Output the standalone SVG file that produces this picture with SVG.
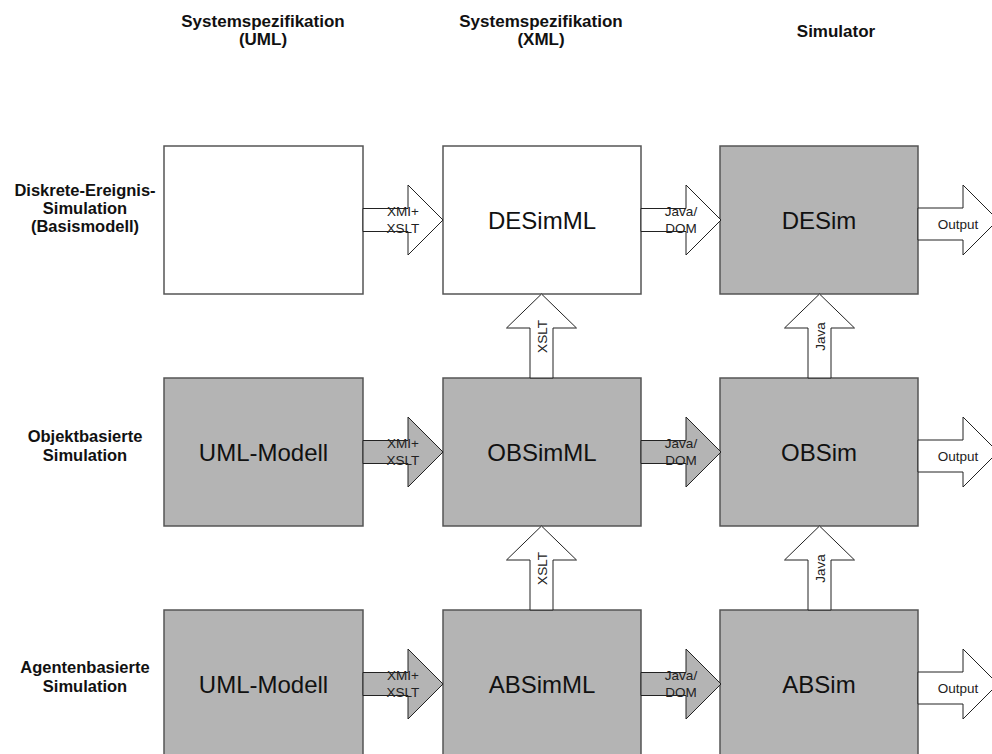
<svg xmlns="http://www.w3.org/2000/svg" width="992" height="754" viewBox="0 0 992 754">
  <style>
    .box { stroke: #555; stroke-width: 1.5; }
    .white { fill: #ffffff; }
    .grey { fill: #b4b4b4; }
    .arrow { stroke: #222; stroke-width: 1; stroke-linejoin: miter; }
    .head { font-family: "Liberation Sans", Arial, sans-serif; font-weight: bold; font-size: 17px; fill: #111; text-anchor: middle; }
    .rowh { font-family: "Liberation Sans", Arial, sans-serif; font-weight: bold; font-size: 16.5px; fill: #111; text-anchor: middle; }
    .name { font-family: "Liberation Sans", Arial, sans-serif; font-size: 24px; fill: #111; text-anchor: middle; }
    .lbl { font-family: "Liberation Sans", Arial, sans-serif; font-size: 13.5px; fill: #222; text-anchor: middle; }
  </style>
  <defs>
    <!-- horizontal block arrow, local origin at the shaft start on the centre line -->
    <polygon id="rarrow" points="0,-11.5 45,-11.5 45,-35 80,0 45,35 45,11.5 0,11.5"/>
    <!-- wider output arrow -->
    <polygon id="oarrow" points="0,-12 45,-12 45,-35 80,0 45,35 45,20 0,20"/>
    <!-- vertical block arrow, origin at the tip -->
    <polygon id="uarrow" points="0,0 35,34 11.5,34 11.5,84 -11.5,84 -11.5,34 -35,34"/>
  </defs>

  <rect width="992" height="754" fill="#ffffff"/>

  <!-- column headers -->
  <g id="col-uml">
    <text class="head" x="263" y="27">Systemspezifikation</text>
    <text class="head" x="263" y="45">(UML)</text>
  </g>
  <g id="col-xml">
    <text class="head" x="541" y="27">Systemspezifikation</text>
    <text class="head" x="541" y="45">(XML)</text>
  </g>
  <g id="col-sim">
    <text class="head" x="836" y="37">Simulator</text>
  </g>

  <!-- row headers -->
  <g id="row-des">
    <text class="rowh" x="85" y="196">Diskrete-Ereignis-</text>
    <text class="rowh" x="85" y="214">Simulation</text>
    <text class="rowh" x="85" y="232">(Basismodell)</text>
  </g>
  <g id="row-obs">
    <text class="rowh" x="85" y="442">Objektbasierte</text>
    <text class="rowh" x="85" y="461">Simulation</text>
  </g>
  <g id="row-abs">
    <text class="rowh" x="85" y="673">Agentenbasierte</text>
    <text class="rowh" x="85" y="692">Simulation</text>
  </g>

  <!-- row 1: discrete event simulation -->
  <g id="uml-des">
    <rect class="box white" x="164" y="146" width="199" height="148"/>
  </g>
  <g id="desimml">
    <rect class="box white" x="443" y="146" width="198" height="148"/>
    <text class="name" x="542" y="228.5">DESimML</text>
  </g>
  <g id="desim">
    <rect class="box grey" x="720" y="146" width="198" height="148"/>
    <text class="name" x="819" y="228.5">DESim</text>
  </g>

  <!-- row 2: object based simulation -->
  <g id="uml-obs">
    <rect class="box grey" x="164" y="378" width="199" height="148"/>
    <text class="name" x="263.5" y="460.5">UML-Modell</text>
  </g>
  <g id="obsimml">
    <rect class="box grey" x="443" y="378" width="198" height="148"/>
    <text class="name" x="542" y="460.5">OBSimML</text>
  </g>
  <g id="obsim">
    <rect class="box grey" x="720" y="378" width="198" height="148"/>
    <text class="name" x="819" y="460.5">OBSim</text>
  </g>

  <!-- row 3: agent based simulation -->
  <g id="uml-abs">
    <rect class="box grey" x="164" y="610" width="199" height="148"/>
    <text class="name" x="263.5" y="692.5">UML-Modell</text>
  </g>
  <g id="absimml">
    <rect class="box grey" x="443" y="610" width="198" height="148"/>
    <text class="name" x="542" y="692.5">ABSimML</text>
  </g>
  <g id="absim">
    <rect class="box grey" x="720" y="610" width="198" height="148"/>
    <text class="name" x="819" y="692.5">ABSim</text>
  </g>

  <!-- connectors: block arrows with their labels -->
  <g id="connectors">
    <!-- XMI+XSLT transformations -->
    <use href="#rarrow" class="arrow white" x="363" y="220"/>
    <text class="lbl" x="403" y="215.5">XMI+</text>
    <text class="lbl" x="403" y="232.5">XSLT</text>

    <use href="#rarrow" class="arrow grey" x="363" y="452"/>
    <text class="lbl" x="403" y="447.5">XMI+</text>
    <text class="lbl" x="403" y="464.5">XSLT</text>

    <use href="#rarrow" class="arrow grey" x="363" y="684"/>
    <text class="lbl" x="403" y="679.5">XMI+</text>
    <text class="lbl" x="403" y="696.5">XSLT</text>

    <!-- Java/DOM bindings -->
    <use href="#rarrow" class="arrow white" x="641" y="220"/>
    <text class="lbl" x="681" y="215.5">Java/</text>
    <text class="lbl" x="681" y="232.5">DOM</text>

    <use href="#rarrow" class="arrow grey" x="641" y="452"/>
    <text class="lbl" x="681" y="447.5">Java/</text>
    <text class="lbl" x="681" y="464.5">DOM</text>

    <use href="#rarrow" class="arrow grey" x="641" y="684"/>
    <text class="lbl" x="681" y="679.5">Java/</text>
    <text class="lbl" x="681" y="696.5">DOM</text>

    <!-- simulator output -->
    <use href="#oarrow" class="arrow white" x="918" y="220"/>
    <text class="lbl" x="958" y="229">Output</text>

    <use href="#oarrow" class="arrow white" x="918" y="452"/>
    <text class="lbl" x="958" y="461">Output</text>

    <use href="#oarrow" class="arrow white" x="918" y="684"/>
    <text class="lbl" x="958" y="693">Output</text>

    <!-- vertical extensions -->
    <use href="#uarrow" class="arrow white" x="541.5" y="294"/>
    <text class="lbl" transform="translate(546.5,336.5) rotate(-90)">XSLT</text>

    <use href="#uarrow" class="arrow white" x="541.5" y="526"/>
    <text class="lbl" transform="translate(546.5,568.5) rotate(-90)">XSLT</text>

    <use href="#uarrow" class="arrow white" x="819.5" y="294"/>
    <text class="lbl" transform="translate(824.5,336.5) rotate(-90)">Java</text>

    <use href="#uarrow" class="arrow white" x="819.5" y="526"/>
    <text class="lbl" transform="translate(824.5,568.5) rotate(-90)">Java</text>
  </g>
</svg>
